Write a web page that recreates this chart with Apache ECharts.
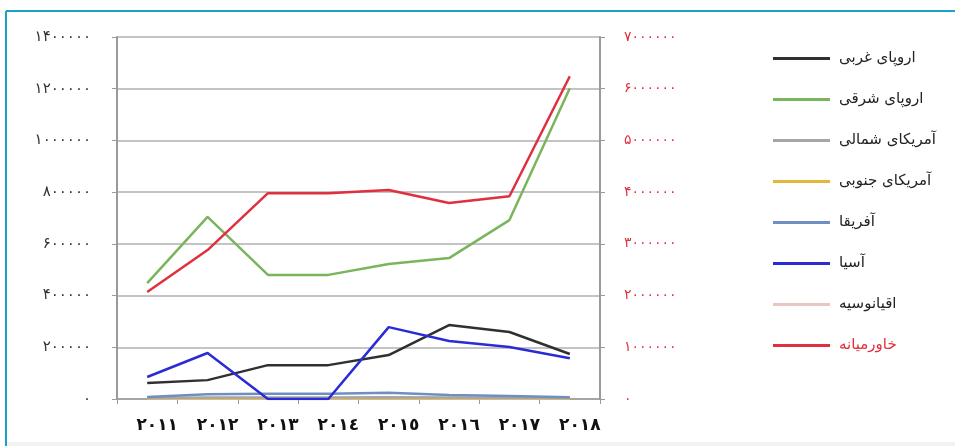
<!DOCTYPE html>
<html>
<head>
<meta charset="UTF-8">
<title>نمودار مناطق</title>
<script type="text/javascript" src="https://cdn.jsdelivr.net/npm/echarts@6/dist/echarts.min.js"></script>
<style>
  html, body {margin:0; padding:0; background:#fff;}
</style>
</head>
<body>
<div id="main" style="width:955px;height:446px"></div>
<script type="text/javascript">
// سال ها
var years = ['۲۰۱۱', '۲۰۱۲', '۲۰۱۳', '۲۰۱٤', '۲۰۱٥', '۲۰۱٦', '۲۰۱۷', '۲۰۱۸'];

// برچسب های محور چپ و راست
var leftTicks = ['۰', '۲۰۰۰۰۰', '۴۰۰۰۰۰', '۶۰۰۰۰۰', '۸۰۰۰۰۰', '۱۰۰۰۰۰۰', '۱۲۰۰۰۰۰', '۱۴۰۰۰۰۰'];
var rightTicks = ['۰', '۱۰۰۰۰۰۰', '۲۰۰۰۰۰۰', '۳۰۰۰۰۰۰', '۴۰۰۰۰۰۰', '۵۰۰۰۰۰۰', '۶۰۰۰۰۰۰', '۷۰۰۰۰۰۰'];

// داده ها (محور چپ)
var westEurope = [62000, 73000, 131000, 131000, 170000, 286000, 259000, 174000];
var eastEurope = [448000, 704000, 480000, 480000, 522000, 545000, 692000, 1202000];
var northAmerica = [4000, 6000, 6000, 6000, 7000, 6000, 5000, 4000];
var southAmerica = [2000, 3000, 3000, 3000, 4000, 3000, 3000, 2000];
var africa = [8000, 18000, 20000, 20000, 24000, 15000, 12000, 7000];
var asia = [85000, 178000, 0, 0, 278000, 224000, 201000, 158000];
var oceania = [1000, 1500, 1500, 1500, 1500, 1500, 1500, 1000];
// محور راست
var middleEast = [207000, 288000, 398000, 398000, 404000, 379000, 392000, 624000];

var names = ['اروپای غربی', 'اروپای شرقی', 'آمریکای شمالی', 'آمریکای جنوبی', 'آفریقا', 'آسیا', 'اقیانوسیه', 'خاورمیانه'];
var colors = ['#303030', '#7ab55c', '#a6a6a6', '#e2b83a', '#6f8fc2', '#2b2bd6', '#e6c8c0', '#e0303f'];
var values = [westEurope, eastEurope, northAmerica, southAmerica, africa, asia, oceania, middleEast];

var myChart = echarts.init(document.getElementById('main'));

var series = [];
// ترتیب رسم: خطوط کوچک اول، قرمز آخر
var order = [6, 3, 2, 4, 0, 5, 1, 7];
order.forEach(function (i) {
    series.push({
        name: names[i],
        type: 'line',
        yAxisIndex: i === 7 ? 1 : 0,
        data: values[i],
        symbol: 'none',
        lineStyle: {width: 2.5, color: colors[i]},
        itemStyle: {color: colors[i]},
        animation: false
    });
});

var legendData = names.map(function (n, i) {
    var item = {name: n};
    if (i === 7) item.textStyle = {color: '#e0303f'};
    return item;
});

var font = "'DejaVu Sans', 'Noto Sans', sans-serif";

var option = {
    backgroundColor: '#fff',
    animation: false,
    textStyle: {fontFamily: font},
    grid: {left: 117, right: 355, top: 37, bottom: 47},
    legend: {
        orient: 'vertical',
        left: 768,
        top: 46,
        icon: 'rect',
        itemWidth: 57,
        itemHeight: 3,
        itemGap: 26,
        data: legendData,
        textStyle: {fontSize: 15, color: '#222', fontFamily: font, padding: [0, 0, 0, 4]}
    },
    xAxis: {
        type: 'category',
        data: years,
        boundaryGap: true,
        axisLine: {lineStyle: {color: '#9a9a9a', width: 1.5}},
        axisTick: {show: true, length: 5, lineStyle: {color: '#9a9a9a'}},
        axisLabel: {margin: 18, fontSize: 17, fontWeight: 'bold', color: '#111', fontFamily: font, padding: [0, 0, 0, 20]},
        splitLine: {show: false}
    },
    yAxis: [
        {
            type: 'value',
            min: 0,
            max: 1400000,
            interval: 200000,
            axisLine: {show: true, lineStyle: {color: '#9a9a9a', width: 2}},
            axisTick: {show: true, length: 5, lineStyle: {color: '#9a9a9a'}},
            axisLabel: {
                margin: 26,
                fontSize: 15,
                color: '#333',
                fontFamily: font,
                formatter: function (v) { return leftTicks[Math.round(v / 200000)]; }
            },
            splitLine: {lineStyle: {color: '#b0b0b0', width: 1.5}}
        },
        {
            type: 'value',
            min: 0,
            max: 700000,
            interval: 100000,
            position: 'right',
            axisLine: {show: true, lineStyle: {color: '#9a9a9a', width: 2}},
            axisTick: {show: true, length: 5, lineStyle: {color: '#9a9a9a'}},
            axisLabel: {
                margin: 24,
                fontSize: 14,
                color: '#e0303f',
                fontFamily: font,
                formatter: function (v) { return rightTicks[Math.round(v / 100000)]; }
            },
            splitLine: {show: false}
        }
    ],
    graphic: [
        {type: 'line', shape: {x1: 6, y1: 11, x2: 955, y2: 11}, style: {stroke: '#16a3c4', lineWidth: 2}, silent: true},
        {type: 'line', shape: {x1: 6, y1: 11, x2: 6, y2: 446}, style: {stroke: '#16a3c4', lineWidth: 2}, silent: true},
        {type: 'rect', shape: {x: 7, y: 442, width: 948, height: 4}, style: {fill: '#f2f2f2'}, silent: true}
    ],
    series: series
};

myChart.setOption(option);
</script>
</body>
</html>
